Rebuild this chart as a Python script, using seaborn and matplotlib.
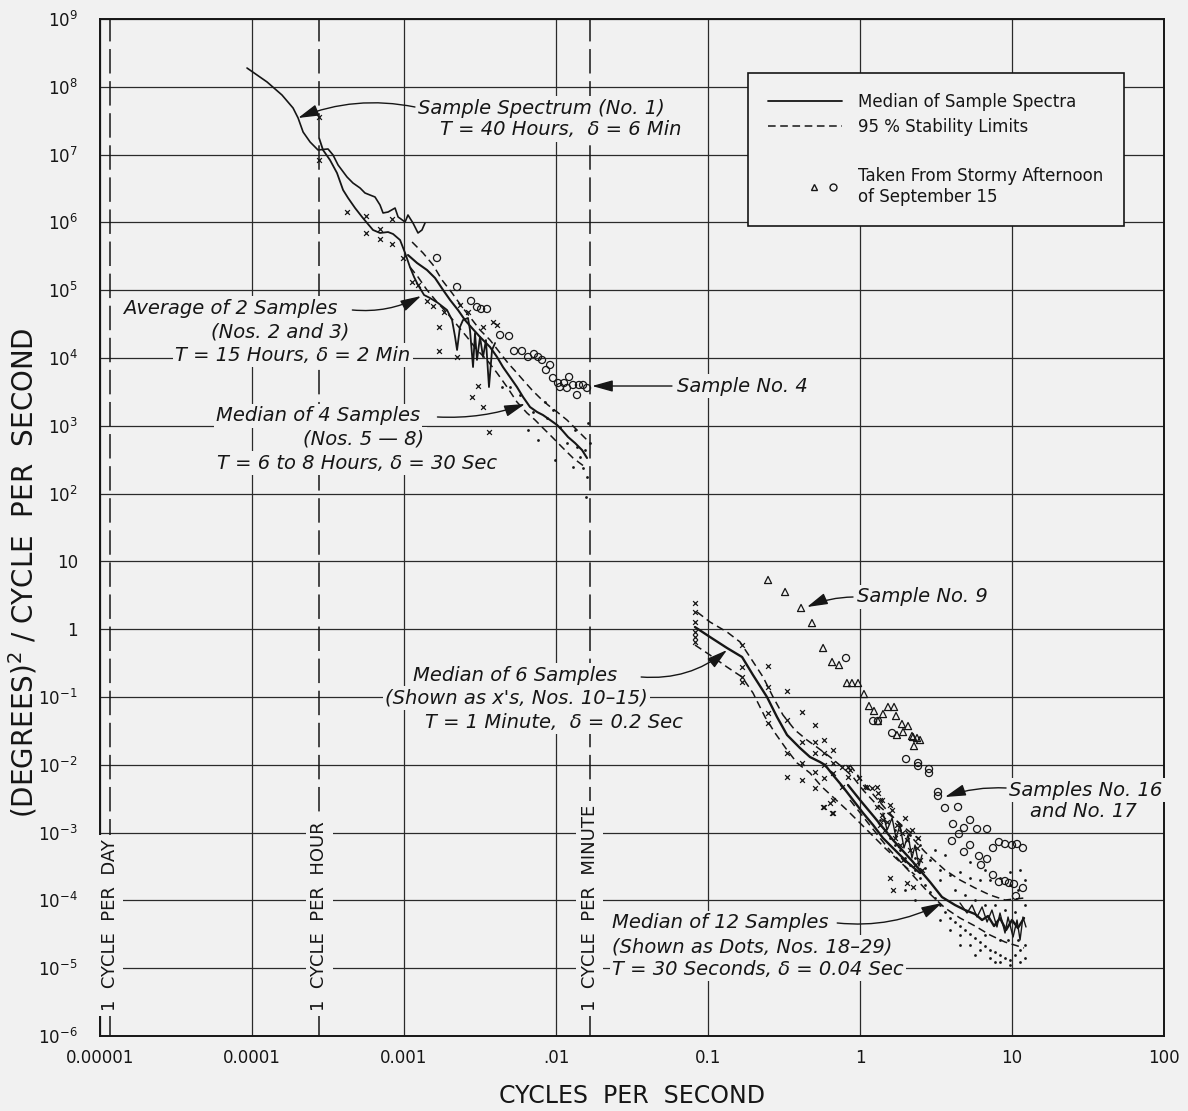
# Temperature-fluctuation spectra: spectral density against frequency on log-log axes,
# several sample spectra with their medians and 95 % stability limits.

import numpy as np
import pandas as pd
import seaborn as sns
import matplotlib.pyplot as plt
from matplotlib import font_manager
from matplotlib.lines import Line2D
from matplotlib.legend_handler import HandlerTuple
from matplotlib.ticker import NullLocator

INK = "#161616"
PAPER = "#f1f1f1"

''' ------------------- DATA (log10 of cycles/sec, log10 of (deg)^2/cps) ---------------- '''
# Sample spectrum No. 1, T = 40 hours
s1_lf = [-4.033, -3.901, -3.803, -3.730, -3.697, -3.664, -3.618, -3.566, -3.500, -3.467,
         -3.434, -3.375, -3.336, -3.289, -3.257, -3.224, -3.191, -3.158, -3.138, -3.105,
         -3.059, -3.039, -2.993, -2.974, -2.941, -2.908, -2.882, -2.862]
s1_lp = [8.277, 8.071, 7.879, 7.687, 7.540, 7.333, 7.186, 7.068, 7.083, 6.994,
         6.847, 6.670, 6.581, 6.507, 6.434, 6.404, 6.375, 6.257, 6.139, 6.153,
         6.212, 6.080, 6.006, 6.109, 5.991, 5.844, 5.888, 5.991]

# average of samples 2 and 3
avg23_lf = [-3.559, -3.533, -3.487, -3.441, -3.401, -3.368, -3.322, -3.276, -3.243, -3.204,
            -3.158, -3.105, -3.072, -3.026, -2.993, -2.961, -2.934, -2.908, -2.868, -2.829,
            -2.776, -2.717, -2.684, -2.664, -2.651, -2.632, -2.612, -2.579, -2.566, -2.546,
            -2.533, -2.520, -2.500, -2.480, -2.461, -2.441, -2.421, -2.401]
avg23_lp = [7.245, 7.068, 6.920, 6.729, 6.478, 6.360, 6.212, 6.080, 5.991, 5.888,
            5.844, 5.858, 5.829, 5.740, 5.549, 5.342, 5.195, 5.077, 4.929, 4.885,
            4.811, 4.708, 4.560, 4.310, 4.118, 4.457, 4.560, 4.590, 4.413, 3.867,
            4.369, 3.971, 4.310, 4.015, 4.265, 3.572, 4.118, 4.221]
x23_lf = [-3.559, -3.559, -3.375, -3.250, -3.250, -3.158, -3.158, -3.079, -3.079, -3.007,
          -2.947, -2.908, -2.849, -2.809, -2.770, -2.770, -2.737, -2.651, -2.632, -2.579,
          -2.553, -2.513, -2.480, -2.480, -2.441, -2.414, -2.388]
x23_lp = [7.555, 6.920, 6.153, 6.094, 5.844, 5.903, 5.755, 6.050, 5.681, 5.475,
          5.121, 5.077, 4.841, 4.767, 4.457, 4.103, 4.679, 4.015, 4.782, 4.679,
          3.425, 3.587, 3.277, 4.457, 2.909, 4.531, 4.487]

# median of samples 5-8 with stability limits
med4_lf = [-2.974, -2.914, -2.849, -2.796, -2.743, -2.697, -2.645, -2.599, -2.553, -2.500,
           -2.434, -2.388, -2.349, -2.303, -2.257, -2.217, -2.171, -2.125, -2.086, -2.039,
           -1.993, -1.961, -1.921, -1.875, -1.829, -1.796]
med4_lp = [5.519, 5.401, 5.298, 5.180, 5.003, 4.856, 4.708, 4.560, 4.442, 4.310,
           4.162, 4.015, 3.867, 3.720, 3.572, 3.425, 3.277, 3.204, 3.159, 3.086,
           3.012, 2.938, 2.835, 2.746, 2.643, 2.525]
med4_hi_lf = [-2.947, -2.875, -2.809, -2.750, -2.684, -2.618, -2.566, -2.500, -2.434, -2.368,
              -2.316, -2.257, -2.217, -2.158, -2.105, -2.053, -1.993, -1.928, -1.862, -1.796]
med4_hi_lp = [5.711, 5.549, 5.372, 5.150, 4.959, 4.752, 4.605, 4.413, 4.265, 4.074,
              3.926, 3.779, 3.676, 3.528, 3.410, 3.307, 3.204, 3.086, 2.938, 2.791]
med4_lo_lf = [-2.961, -2.908, -2.849, -2.783, -2.717, -2.651, -2.586, -2.520, -2.454, -2.388,
              -2.322, -2.257, -2.191, -2.138, -2.086, -2.026, -1.961, -1.888, -1.809]
med4_lo_lp = [5.342, 5.195, 5.003, 4.826, 4.664, 4.487, 4.310, 4.118, 3.971, 3.779,
              3.572, 3.351, 3.189, 3.086, 2.968, 2.835, 2.687, 2.525, 2.392]
dots4_lf = [-2.184, -2.118, -2.059, -2.020, -2.007, -1.928, -1.888, -1.822, -1.796, -1.789,
            -1.842, -1.974, -2.151, -2.303, -2.355, -1.809, -1.776, -1.862, -1.803, -2.072,
            -2.237, -1.875]
dots4_lp = [2.938, 2.791, 3.115, 3.233, 2.496, 2.746, 2.392, 2.378, 2.245, 3.041,
            2.540, 2.982, 3.204, 3.572, 3.572, 2.643, 2.746, 2.687, 1.950, 3.351,
            3.454, 2.938]

# sample No. 4 (open circles)
s4_lf = [-2.783, -2.651, -2.559, -2.520, -2.493, -2.454, -2.368, -2.309, -2.276, -2.224,
         -2.184, -2.145, -2.118, -2.092, -2.066, -2.039, -2.020, -1.987, -1.974, -1.947,
         -1.928, -1.914, -1.888, -1.862, -1.849, -1.822, -1.796]
s4_lp = [5.475, 5.047, 4.841, 4.752, 4.723, 4.723, 4.339, 4.324, 4.103, 4.103,
         4.015, 4.059, 4.015, 3.971, 3.823, 3.897, 3.705, 3.631, 3.572, 3.631,
         3.558, 3.720, 3.602, 3.454, 3.602, 3.602, 3.558]

# median of samples 10-15 with stability limits, individual samples as x's
med6_lf = [-1.086, -0.987, -0.875, -0.776, -0.704, -0.612, -0.546, -0.480, -0.395, -0.329,
           -0.263, -0.230, -0.178, -0.112, -0.046, 0.020, 0.086, 0.151, 0.230, 0.309, 0.395]
med6_lp = [0.032, -0.115, -0.277, -0.410, -0.676, -1.000, -1.295, -1.560, -1.752, -1.885,
           -1.959, -2.003, -2.150, -2.327, -2.519, -2.711, -2.888, -3.080, -3.257, -3.434, -3.596]
med6_hi_lf = [-1.072, -0.987, -0.875, -0.789, -0.724, -0.638, -0.572, -0.507, -0.428, -0.349,
              -0.276, -0.197, -0.118, -0.046, 0.020, 0.099, 0.197, 0.296, 0.395]
med6_hi_lp = [0.254, 0.106, -0.041, -0.189, -0.410, -0.705, -1.000, -1.265, -1.487, -1.634,
              -1.752, -1.885, -2.032, -2.180, -2.372, -2.563, -2.740, -2.932, -3.109]
med6_lo_lf = [-1.086, -0.987, -0.875, -0.776, -0.704, -0.625, -0.559, -0.480, -0.414, -0.329,
              -0.250, -0.178, -0.086, -0.020, 0.066, 0.164, 0.263, 0.362]
med6_lo_lp = [-0.233, -0.381, -0.558, -0.705, -0.941, -1.295, -1.531, -1.782, -1.973, -2.121,
              -2.327, -2.475, -2.667, -2.814, -3.006, -3.227, -3.434, -3.625]
x6_lf = [-1.086, -1.086, -1.086, -1.086, -1.086, -1.086, -0.776, -0.776, -0.776, -0.776,
         -0.605, -0.605, -0.605, -0.605, -0.480, -0.480, -0.480, -0.480, -0.382, -0.382,
         -0.382, -0.382, -0.296, -0.296, -0.296, -0.296, -0.296, -0.237, -0.237, -0.237,
         -0.237, -0.237, -0.178, -0.178, -0.178, -0.178, -0.178, -0.118, -0.118, -0.079,
         -0.079, -0.007, 0.033, 0.079, 0.118, 0.145, 0.197, 0.217, 0.309, 0.349,
         0.283, 0.151, 0.132, 0.112, 0.046, -0.066, -0.197, -0.243, -0.184,
         0.112, 0.145, 0.178, 0.211, 0.243, 0.276, 0.309, 0.342, 0.375, 0.395,
         0.296, 0.230, 0.164, 0.329, 0.362, 0.263, 0.197, 0.382, 0.408, 0.132]
x6_lp = [0.386, 0.254, 0.106, -0.041, -0.115, -0.189, -0.233, -0.558, -0.705, -0.779,
         -0.543, -0.853, -1.236, -1.383, -0.912, -1.339, -1.826, -2.180, -1.221, -1.664,
         -1.973, -2.224, -1.413, -1.664, -1.826, -2.106, -2.342, -1.634, -1.826, -2.003,
         -2.195, -2.622, -1.782, -1.973, -2.121, -2.519, -2.711, -2.032, -2.327, -2.032,
         -2.180, -2.195, -2.327, -2.342, -2.416, -2.519, -3.670, -3.847, -3.743, -3.802,
         -3.404, -2.814, -2.519, -2.327, -2.327, -2.077, -2.563, -2.622, -2.711,
         -2.622, -2.740, -2.844, -2.667, -2.888, -3.006, -3.109, -2.962, -3.227, -3.404,
         -2.785, -3.080, -2.962, -3.257, -3.478, -3.183, -2.593, -3.080, -3.552, -2.888]
# one of the x-samples drawn as a trace where the points merge (1 - 2.5 cps)
tr6_lf = [0.151, 0.178, 0.211, 0.237, 0.263, 0.289, 0.316, 0.342, 0.362, 0.388, 0.408]
tr6_lp = [-2.711, -2.962, -2.785, -3.080, -2.888, -3.227, -3.035, -3.375, -3.183, -3.493, -3.330]

# sample No. 9 (triangles) and samples No. 16, 17 (circles), stormy afternoon of Sept. 15
s9_lf = [-0.605, -0.493, -0.388, -0.316, -0.243, -0.184, -0.138, -0.086, -0.053, -0.013,
         0.026, 0.059, 0.092, 0.118, 0.151, 0.184, 0.224, 0.237, 0.276, 0.316,
         0.283, 0.243, 0.342, 0.355, 0.375, 0.395, 0.349]
s9_lp = [0.726, 0.549, 0.313, 0.091, -0.277, -0.484, -0.528, -0.794, -0.794, -0.794,
         -0.956, -1.133, -1.206, -1.354, -1.251, -1.147, -1.147, -1.280, -1.398, -1.428,
         -1.516, -1.560, -1.575, -1.723, -1.605, -1.634, -1.590]
s1617_lf = [-0.092, 0.086, 0.118, 0.211, 0.303, 0.382, 0.382, 0.454, 0.454, 0.513,
            0.513, 0.559, 0.645, 0.612, 0.724, 0.684, 0.651, 0.770, 0.836, 0.605,
            0.724, 0.684, 0.783, 0.836, 0.796, 0.875, 0.914, 0.954, 1.000, 1.033,
            1.072, 0.875, 0.914, 0.954, 0.980, 1.013, 1.072, 1.026]
s1617_lp = [-0.425, -1.354, -1.354, -1.531, -1.915, -1.973, -2.018, -2.062, -2.121, -2.401,
            -2.460, -2.637, -2.622, -2.873, -2.814, -2.932, -3.021, -2.947, -2.947, -3.124,
            -3.183, -3.286, -3.345, -3.389, -3.478, -3.227, -3.139, -3.168, -3.183, -3.168,
            -3.227, -3.625, -3.729, -3.714, -3.743, -3.758, -3.817, -3.935]

# median of samples 18-29 with stability limits, individual samples as dots
med12_lf = [-0.079, 0.000, 0.099, 0.217, 0.349, 0.461, 0.539, 0.625, 0.691, 0.757,
            0.803, 0.842, 0.882, 0.921, 0.961, 1.000, 1.039, 1.079]
med12_lp = [-2.298, -2.519, -2.785, -3.109, -3.434, -3.729, -3.950, -4.068, -4.142, -4.201,
            -4.289, -4.230, -4.378, -4.260, -4.437, -4.289, -4.407, -4.260]
med12_hi_lf = [-0.066, 0.033, 0.164, 0.296, 0.428, 0.559, 0.658, 0.757, 0.855, 0.954, 1.079]
med12_hi_lp = [-2.003, -2.298, -2.637, -2.962, -3.286, -3.552, -3.699, -3.817, -3.920, -3.994, -3.965]
med12_lo_lf = [-0.066, 0.053, 0.184, 0.316, 0.447, 0.559, 0.658, 0.757, 0.855, 0.954, 1.079]
med12_lo_lp = [-2.519, -2.858, -3.227, -3.552, -3.876, -4.112, -4.260, -4.378, -4.510, -4.614, -4.702]
dots12_lf = [0.132, 0.164, 0.197, 0.230, 0.263, 0.296, 0.329, 0.362, 0.395, 0.428,
             0.461, 0.493, 0.526, 0.559, 0.592, 0.625, 0.658, 0.691, 0.724, 0.757,
             0.789, 0.822, 0.855, 0.888, 0.921, 0.954, 0.987, 1.020, 1.053, 1.086,
             0.263, 0.329, 0.395, 0.461, 0.526, 0.592, 0.658, 0.724, 0.789, 0.855,
             0.921, 0.987, 1.039, 1.086, 1.053, 0.987, 0.724, 0.822, 0.559, 0.493,
             0.428, 0.362, 0.230, 0.526, 0.625, 0.691, 0.757, 0.822, 0.888, 0.954,
             1.020, 1.086, 0.461, 0.526, 0.592, 0.658, 0.724, 0.789, 0.855, 0.921,
             0.987, 1.053, 1.086, 0.362, 0.296, 0.658, 0.757, 0.888, 0.974, 1.039,
             0.921, 0.822]
dots12_lp = [-2.814, -2.962, -3.080, -3.183, -3.257, -3.375, -3.478, -3.552, -3.670, -3.773,
             -3.876, -3.965, -4.068, -4.171, -4.260, -4.319, -4.378, -4.437, -4.496, -4.555,
             -4.614, -4.673, -4.732, -4.761, -4.805, -4.850, -4.879, -4.805, -4.732, -4.658,
             -2.962, -3.035, -3.183, -3.404, -3.552, -3.625, -3.581, -3.670, -3.699, -3.699,
             -3.670, -3.773, -3.847, -3.699, -3.552, -3.581, -3.434, -3.552, -3.330, -3.257,
             -3.522, -3.375, -2.962, -3.699, -3.847, -3.920, -3.994, -4.068, -4.068, -4.142,
             -4.171, -4.068, -4.142, -4.289, -4.437, -4.510, -4.658, -4.732, -4.850, -4.909,
             -4.953, -4.909, -4.850, -3.994, -3.847, -4.658, -4.805, -4.909, -4.584, -4.584,
             -4.584, -4.510]
# a dot-sample drawn as a trace where the dots merge (5 - 12 cps)
tr12_lf = [0.658, 0.704, 0.737, 0.770, 0.803, 0.836, 0.868, 0.901, 0.921, 0.954,
           0.974, 1.007, 1.033, 1.053, 1.072, 1.092]
tr12_lp = [-4.038, -4.186, -4.068, -4.245, -4.097, -4.319, -4.142, -4.392, -4.186, -4.481,
           -4.245, -4.540, -4.289, -4.584, -4.245, -4.392]

# reference frequencies
ref_freqs = [1 / 86400, 1 / 3600, 1 / 60]
ref_labels = ["1  CYCLE  PER  DAY", "1  CYCLE  PER  HOUR", "1  CYCLE  PER  MINUTE"]

xtick_vals = [1e-5, 1e-4, 1e-3, 1e-2, 1e-1, 1, 10, 100]
xtick_labels = ["0.00001", "0.0001", "0.001", ".01", "0.1", "1", "10", "100"]
ytick_exp = list(range(-6, 10))


def frame(lf, lp):
    return pd.DataFrame({"f": np.power(10.0, lf), "p": np.power(10.0, lp)})


class RightPair(HandlerTuple):
    # keeps the triangle and circle together at the right end of the handle area
    def create_artists(self, legend, orig_handle, xdescent, ydescent, width, height,
                       fontsize, trans):
        shift = 0.5 * width
        return super().create_artists(legend, orig_handle, xdescent - shift, ydescent,
                                      width - shift, height, fontsize, trans)


''' ------------------- FIGURE ---------------------------------------------------------- '''
sns.set_theme(style="white")
plt.rcParams["font.family"] = ["DejaVu Sans"]
installed = {f.name for f in font_manager.fontManager.ttflist}
NARROW = "Liberation Sans Narrow" if "Liberation Sans Narrow" in installed else "DejaVu Sans"

fig, ax = plt.subplots(figsize=(11.88, 11.11), dpi=100)
fig.patch.set_facecolor(PAPER)
ax.set_facecolor(PAPER)
fig.subplots_adjust(left=0.0842, right=0.9798, bottom=0.0675, top=0.9829)
ax.set_xscale("log")
ax.set_yscale("log")
ax.set_xlim(1e-5, 1e2)
ax.set_ylim(1e-6, 1e9)

# solid spectra / medians
for lf, lp, lw in [(s1_lf, s1_lp, 1.2), (avg23_lf, avg23_lp, 1.3), (med4_lf, med4_lp, 1.5),
                   (med6_lf, med6_lp, 1.7), (med12_lf, med12_lp, 1.7),
                   (tr6_lf, tr6_lp, 1.0), (tr12_lf, tr12_lp, 1.0)]:
    sns.lineplot(data=frame(lf, lp), x="f", y="p", estimator=None, sort=False,
                 color=INK, lw=lw, ax=ax, zorder=3)

# 95 % stability limits
for lf, lp in [(med4_hi_lf, med4_hi_lp), (med4_lo_lf, med4_lo_lp),
               (med6_hi_lf, med6_hi_lp), (med6_lo_lf, med6_lo_lp),
               (med12_hi_lf, med12_hi_lp), (med12_lo_lf, med12_lo_lp)]:
    sns.lineplot(data=frame(lf, lp), x="f", y="p", estimator=None, sort=False,
                 color=INK, lw=1.1, linestyle=(0, (5, 3)), ax=ax, zorder=3)

# individual sample points
for lf, lp in [(x23_lf, x23_lp), (x6_lf, x6_lp)]:
    sns.scatterplot(data=frame(lf, lp), x="f", y="p", marker="x", s=12, color=INK,
                    linewidth=0.9, ax=ax, zorder=4)
for lf, lp in [(dots4_lf, dots4_lp), (dots12_lf, dots12_lp)]:
    sns.scatterplot(data=frame(lf, lp), x="f", y="p", marker="o", s=4, color=INK,
                    linewidth=0, ax=ax, zorder=4)
sns.scatterplot(data=frame(s9_lf, s9_lp), x="f", y="p", marker="^", s=26,
                facecolor="none", edgecolor=INK, linewidth=0.9, ax=ax, zorder=4)
for lf, lp in [(s4_lf, s4_lp), (s1617_lf, s1617_lp)]:
    sns.scatterplot(data=frame(lf, lp), x="f", y="p", marker="o", s=26,
                    facecolor="none", edgecolor=INK, linewidth=0.9, ax=ax, zorder=4)

# period reference lines
for fr, lab in zip(ref_freqs, ref_labels):
    ax.axvline(fr, color=INK, lw=1.1, ls=(0, (16, 5)), zorder=2)
    ax.text(fr, 2.3e-6, lab, rotation=90, ha="center", va="bottom", fontsize=13,
            color=INK, zorder=6,
            bbox=dict(boxstyle="square,pad=0.25", fc=PAPER, ec="none"))

# grid, spines, ticks
ax.set_axisbelow(True)
ax.grid(True, which="major", color="#2a2a2a", lw=0.9)
ax.xaxis.set_minor_locator(NullLocator())
ax.yaxis.set_minor_locator(NullLocator())
for sp in ax.spines.values():
    sp.set_color(INK)
    sp.set_linewidth(1.4)
ax.set_xticks(xtick_vals)
ax.set_xticklabels(xtick_labels)
ylabels = []
for k in ytick_exp:
    if k == 1:
        ylabels.append("10")
    elif k == 0:
        ylabels.append("1")
    else:
        ylabels.append(r"$\mathregular{10^{%d}}$" % k)
ax.set_yticks([10.0 ** k for k in ytick_exp])
ax.set_yticklabels(ylabels)
ax.tick_params(axis="both", length=0, labelsize=12, labelcolor=INK)
ax.tick_params(axis="x", pad=9)
ax.tick_params(axis="y", pad=16)
for t in ax.get_xticklabels() + ax.get_yticklabels():
    t.set_fontfamily(NARROW)

ax.set_xlabel("CYCLES  PER  SECOND", fontsize=17, color=INK)
ax.set_ylabel("(DEGREES)$^\\mathregular{2}$ / CYCLE  PER  SECOND", fontsize=20, color=INK)
ax.xaxis.set_label_coords(0.5, -0.047)
ax.yaxis.set_label_coords(-0.057, 0.455)

# annotations: upper lines of a block are drawn last so their backing box
# never hides the line above
arrow = dict(arrowstyle="-|>,head_length=0.9,head_width=0.25", color=INK, lw=1.0,
             mutation_scale=14, shrinkA=0, shrinkB=0)


def lbl(lx, ly, s, z=6.3):
    ax.text(10 ** lx, 10 ** ly, s, fontsize=14, style="italic", color=INK, ha="left",
            va="center", zorder=z,
            bbox=dict(boxstyle="square,pad=0.12", fc=PAPER, ec="none"))


def arr(lx0, ly0, lx1, ly1, rad):
    ax.annotate("", xy=(10 ** lx1, 10 ** ly1), xytext=(10 ** lx0, 10 ** ly0),
                arrowprops=dict(connectionstyle="arc3,rad=%s" % rad, **arrow), zorder=6)


lbl(-2.908, 7.687, "Sample Spectrum (No. 1)")
lbl(-2.763, 7.363, "T = 40 Hours,  δ = 6 Min", 6.2)
arr(-2.928, 7.702, -3.697, 7.540, 0.15)

lbl(-4.849, 4.737, "Average of 2 Samples")
lbl(-4.270, 4.383, "(Nos. 2 and 3)", 6.2)
lbl(-4.507, 4.044, "T = 15 Hours, δ = 2 Min", 6.1)
arr(-3.340, 4.708, -2.888, 4.914, 0.15)

lbl(-4.237, 3.145, "Median of 4 Samples")
lbl(-3.664, 2.805, "(Nos. 5 — 8)", 6.2)
lbl(-4.230, 2.451, "T = 6 to 8 Hours, δ = 30 Sec", 6.1)
arr(-2.780, 3.130, -2.204, 3.322, 0.1)

lbl(-1.204, 3.587, "Sample No. 4")
arr(-1.237, 3.587, -1.763, 3.587, 0.0)

lbl(-0.020, 0.475, "Sample No. 9")
arr(-0.046, 0.475, -0.349, 0.327, 0.1)

lbl(-2.941, -0.676, "Median of 6 Samples")
lbl(-3.125, -1.015, "(Shown as x's, Nos. 10–15)", 6.2)
lbl(-2.862, -1.369, "T = 1 Minute,  δ = 0.2 Sec", 6.1)
arr(-1.440, -0.705, -0.875, -0.307, 0.2)

lbl(0.980, -2.372, "Samples No. 16")
lbl(1.118, -2.696, "and No. 17", 6.2)
arr(0.961, -2.342, 0.559, -2.475, 0.1)

lbl(-1.632, -4.333, "Median of 12 Samples")
lbl(-1.632, -4.687, "(Shown as Dots, Nos. 18–29)", 6.2)
lbl(-1.632, -5.012, "T = 30 Seconds, δ = 0.04 Sec", 6.1)
arr(-0.150, -4.333, 0.539, -4.038, 0.15)

# legend box
h_med = Line2D([], [], color=INK, lw=1.3)
h_lim = Line2D([], [], color=INK, lw=1.1, ls=(0, (5, 3)))
h_gap = Line2D([], [], color="none")
h_tri = Line2D([], [], marker="^", ls="none", mfc="none", mec=INK, ms=5)
h_cir = Line2D([], [], marker="o", ls="none", mfc="none", mec=INK, ms=5)
leg = ax.legend([h_med, h_lim, h_gap, (h_tri, h_cir)],
                ["Median of Sample Spectra", "95 % Stability Limits", "",
                 "Taken From Stormy Afternoon\nof September 15"],
                handler_map={tuple: RightPair(ndivide=None, pad=0.1)},
                loc="upper right", bbox_to_anchor=(0.962, 0.947), borderaxespad=0,
                frameon=True, fancybox=False, edgecolor=INK, facecolor=PAPER,
                framealpha=1, fontsize=12, handlelength=4.4, handletextpad=1.0,
                borderpad=1.2, labelspacing=0.4)
leg.get_frame().set_linewidth(1.2)
leg.set_zorder(7)
for t in leg.get_texts():
    t.set_color(INK)

fig.savefig("out.png", dpi=100, facecolor=PAPER)
